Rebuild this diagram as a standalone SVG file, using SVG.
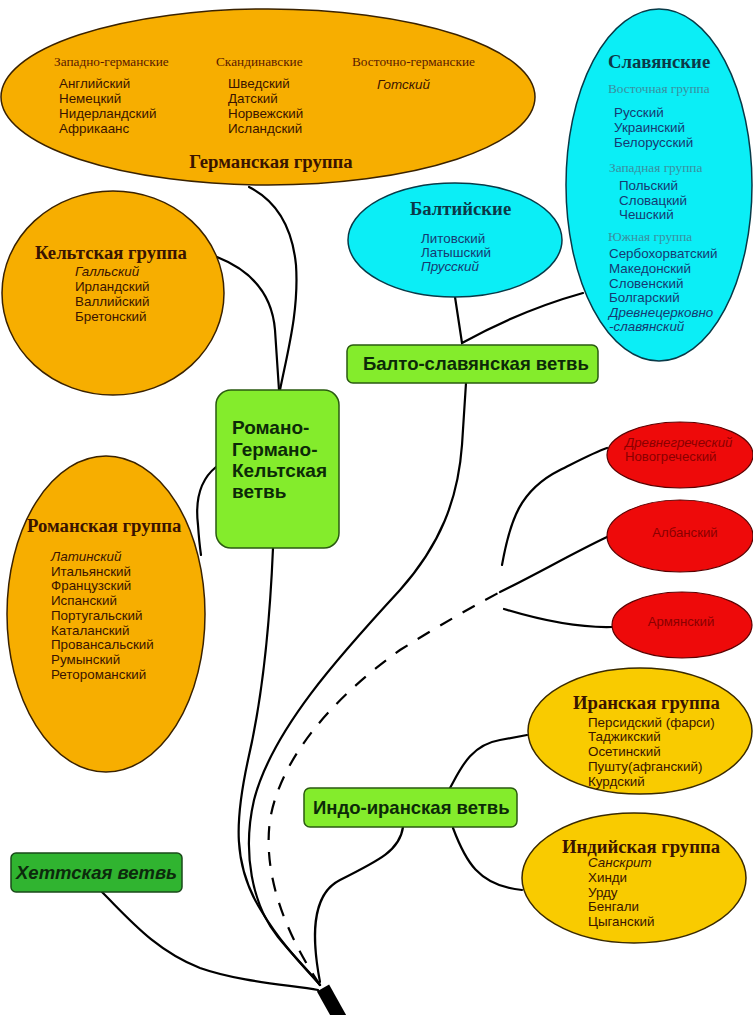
<svg xmlns="http://www.w3.org/2000/svg" width="753" height="1015" viewBox="0 0 753 1015">
<style>
.bg{fill:#ffffff}
.orange{fill:#f7ae00;stroke:#3a2200;stroke-width:1.5}
.gold{fill:#f9cb00;stroke:#3a2a00;stroke-width:1.5}
.cyan{fill:#0beef6;stroke:#083a48;stroke-width:1.5}
.red{fill:#ee0a0a;stroke:#5a0000;stroke-width:1.2}
.green{fill:#84ec2c;stroke:#2a5a10;stroke-width:1.5}
.dgreen{fill:#30b430;stroke:#1a4a1a;stroke-width:1.5}
.head{font-family:"Liberation Serif",serif;font-weight:bold;font-size:18.7px}
.sub{font-family:"Liberation Serif",serif;font-size:13.3px}
.item{font-family:"Liberation Sans",Arial,sans-serif;font-size:13.4px}
.it{font-style:italic}
.box{font-family:"Liberation Sans",Arial,sans-serif;font-weight:bold;font-size:18.5px;fill:#0c2a08}
.big{font-size:19px}
.brown{fill:#3a1400}
.brownsub{fill:#5a1a00}
.navy{fill:#163a72}
.teal{fill:#0c3848}
.tealsub{fill:#3a8ea0}
.redt{fill:#8a0000;font-size:13.2px}
.conn path{fill:none;stroke:#000;stroke-width:2.2;stroke-linecap:round}
.conn .dash{stroke-dasharray:14 12;stroke-linecap:butt}
</style>
<rect class="bg" x="0" y="0" width="753" height="1015"/>

<g id="connectors" class="conn">
  <path d="M249,187 C275,200 292,225 296,265 C299,310 288,350 280,390"/>
  <path d="M217,257 C250,270 272,292 275,330 L279,390"/>
  <path d="M216,467 C200,480 195,500 198,525 C199,540 200,548 201,555"/>
  <path d="M273,548 C270,620 262,700 248,760 C235,820 232,865 262,912 C282,945 305,968 320,985"/>
  <path d="M466,383 L462,445 C458,500 440,545 400,590 C340,655 272,730 254,800 C242,852 252,905 278,937 C295,958 310,972 320,985"/>
  <path d="M455,297 L462,343 C500,322 540,305 583,293"/>
  <path class="dash" d="M320,985 C290,940 262,880 270,820 C280,760 330,700 400,650 C440,625 470,608 500,592"/>
  <path d="M502,565 C510,520 520,490 560,470 C580,460 595,452 607,448"/>
  <path d="M500,592 C535,575 575,552 607,537"/>
  <path d="M504,609 C540,620 575,628 612,627"/>
  <path d="M450,788 C460,770 470,745 500,740 L527,735"/>
  <path d="M453,828 C465,860 478,886 522,890"/>
  <path d="M403,827 C400,850 380,860 340,880 C310,895 312,940 320,982"/>
  <path d="M102,892 C130,920 155,950 200,968 C240,982 290,985 318,990"/>
</g>

<g id="root">
  <line x1="323" y1="988" x2="342" y2="1022" stroke="#000" stroke-width="14"/>
</g>

<g id="germanic">
  <ellipse class="orange" cx="268" cy="97" rx="267" ry="88"/>
  <text class="sub brownsub" x="54" y="66">Западно-германские</text>
  <text class="item brown" x="59" y="88">Английский</text>
  <text class="item brown" x="59" y="103">Немецкий</text>
  <text class="item brown" x="59" y="118">Нидерландский</text>
  <text class="item brown" x="59" y="133">Африкаанс</text>
  <text class="sub brownsub" x="216" y="66">Скандинавские</text>
  <text class="item brown" x="228" y="88">Шведский</text>
  <text class="item brown" x="228" y="103">Датский</text>
  <text class="item brown" x="228" y="118">Норвежский</text>
  <text class="item brown" x="228" y="133">Исландский</text>
  <text class="sub brownsub" x="352" y="66">Восточно-германские</text>
  <text class="item brown it" x="377" y="89">Готский</text>
  <text class="head brown" x="271" y="168" text-anchor="middle">Германская группа</text>
</g>

<g id="slavic">
  <ellipse class="cyan" cx="659" cy="185" rx="93" ry="176"/>
  <text class="head teal" x="608" y="68">Славянские</text>
  <text class="sub tealsub" x="608" y="93">Восточная группа</text>
  <text class="item navy" x="614" y="117">Русский</text>
  <text class="item navy" x="614" y="132">Украинский</text>
  <text class="item navy" x="614" y="147">Белорусский</text>
  <text class="sub tealsub" x="609" y="172">Западная группа</text>
  <text class="item navy" x="619" y="190">Польский</text>
  <text class="item navy" x="619" y="205">Словацкий</text>
  <text class="item navy" x="619" y="219">Чешский</text>
  <text class="sub tealsub" x="608" y="241">Южная группа</text>
  <text class="item navy" x="609" y="258">Сербохорватский</text>
  <text class="item navy" x="609" y="273">Македонский</text>
  <text class="item navy" x="609" y="288">Словенский</text>
  <text class="item navy" x="609" y="302">Болгарский</text>
  <text class="item navy it" x="609" y="317">Древнецерковно</text>
  <text class="item navy it" x="609" y="331">-славянский</text>
</g>

<g id="baltic">
  <ellipse class="cyan" cx="455" cy="240" rx="107" ry="57"/>
  <text class="head teal" x="410" y="215">Балтийские</text>
  <text class="item navy" x="421" y="243">Литовский</text>
  <text class="item navy" x="421" y="257">Латышский</text>
  <text class="item navy it" x="421" y="271">Прусский</text>
</g>

<g id="balto-slavic">
  <rect class="green" x="347" y="345" width="251" height="38" rx="6"/>
  <text class="box" x="363" y="370">Балто-славянская ветвь</text>
</g>

<g id="celtic">
  <ellipse class="orange" cx="113" cy="293" rx="111" ry="102"/>
  <text class="head brown" x="35" y="259">Кельтская группа</text>
  <text class="item brown it" x="75" y="276">Галльский</text>
  <text class="item brown" x="75" y="291">Ирландский</text>
  <text class="item brown" x="75" y="306">Валлийский</text>
  <text class="item brown" x="75" y="321">Бретонский</text>
</g>

<g id="romance">
  <ellipse class="orange" cx="106" cy="614" rx="99" ry="158"/>
  <text class="head brown" x="27" y="532">Романская группа</text>
  <text class="item brown it" x="51" y="561">Латинский</text>
  <text class="item brown" x="51" y="576">Итальянский</text>
  <text class="item brown" x="51" y="590">Французский</text>
  <text class="item brown" x="51" y="605">Испанский</text>
  <text class="item brown" x="51" y="620">Португальский</text>
  <text class="item brown" x="51" y="635">Каталанский</text>
  <text class="item brown" x="51" y="649">Провансальский</text>
  <text class="item brown" x="51" y="664">Румынский</text>
  <text class="item brown" x="51" y="679">Ретороманский</text>
</g>

<g id="romano-germano-celtic">
  <rect class="green" x="216" y="390" width="123" height="158" rx="15"/>
  <text class="box big" x="232" y="434">Романо-</text>
  <text class="box big" x="232" y="456">Германо-</text>
  <text class="box big" x="232" y="477">Кельтская</text>
  <text class="box big" x="232" y="498">ветвь</text>
</g>

<g id="greek">
  <ellipse class="red" cx="680" cy="455" rx="73" ry="33"/>
  <text class="item redt it" x="625" y="447">Древнегреческий</text>
  <text class="item redt" x="625" y="461">Новогреческий</text>
</g>

<g id="albanian">
  <ellipse class="red" cx="680" cy="536" rx="73" ry="36"/>
  <text class="item redt" x="685" y="537" text-anchor="middle">Албанский</text>
</g>

<g id="armenian">
  <ellipse class="red" cx="682" cy="625" rx="70" ry="33"/>
  <text class="item redt" x="681" y="626" text-anchor="middle">Армянский</text>
</g>

<g id="iranian">
  <ellipse class="gold" cx="640" cy="731" rx="112" ry="63"/>
  <text class="head brown" x="573" y="709">Иранская группа</text>
  <text class="item brown" x="588" y="727">Персидский (фарси)</text>
  <text class="item brown" x="588" y="741">Таджикский</text>
  <text class="item brown" x="588" y="756">Осетинский</text>
  <text class="item brown" x="588" y="771">Пушту(афганский)</text>
  <text class="item brown" x="588" y="786">Курдский</text>
</g>

<g id="indo-iranian">
  <rect class="green" x="304" y="788" width="213" height="39" rx="6"/>
  <text class="box" x="313" y="814">Индо-иранская ветвь</text>
</g>

<g id="indian">
  <ellipse class="gold" cx="634" cy="878" rx="112" ry="65"/>
  <text class="head brown" x="562" y="853">Индийская группа</text>
  <text class="item brown it" x="588" y="867">Санскрит</text>
  <text class="item brown" x="588" y="882">Хинди</text>
  <text class="item brown" x="588" y="897">Урду</text>
  <text class="item brown" x="588" y="911">Бенгали</text>
  <text class="item brown" x="588" y="926">Цыганский</text>
</g>

<g id="hittite">
  <rect class="dgreen" x="11" y="853" width="171" height="39" rx="5"/>
  <text class="box it" x="16" y="879" style="fill:#0c2a0c">Хеттская ветвь</text>
</g>
</svg>
